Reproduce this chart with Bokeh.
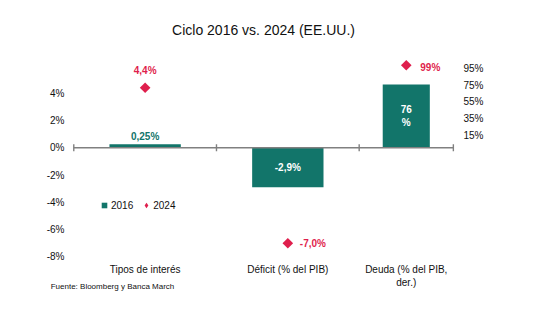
import numpy as np
from bokeh.plotting import figure
from bokeh.models import (Range1d, LinearAxis, FixedTicker, Legend, LegendItem,
                          Title, ColumnDataSource)
from bokeh.core.properties import value
from bokeh.embed import file_html
from bokeh.resources import INLINE

# ---------------- data ----------------
categories = ["Tipos de interés", "Déficit (% del PIB)", "Deuda (% del PIB,\nder.)"]
series_names = ["2016", "2024"]
v2016 = [0.25, -2.9, 76.0]
v2024 = [4.4, -7.0, 99.0]
axis_of = ["left", "left", "right"]
dec2016 = [2, 1, 0]
dec2024 = [1, 1, 0]
left_ticks = [-8, -6, -4, -2, 0, 2, 4]
right_ticks = [15, 35, 55, 75, 95]
title_text = "Ciclo 2016 vs. 2024 (EE.UU.)"
source_note = "Fuente: Bloomberg y Banca March"

# ---------------- layout / style ----------------
TEAL = "#12756A"
RED = "#DF1F4D"
GREY = "#808080"
FONT = "Liberation Sans"
bounds = np.array([0.0, 1.0, 2.0, 2.66])      # category boundaries (last one truncated)
centers = (bounds[:-1] + bounds[1:]) / 2
widths = 0.5 * np.diff(bounds)
XR = (-0.023, 2.682)
YL = (-8.41, 7.13)
K = 16.37                                      # right-axis scale factor
FRAME_W = 386
NOTE_CENTER_PX = 42                            # note centre, px right of frame left


def fmt(v, d):
    return f"{v:.{d}f}".replace(".", ",") + "%"


def make_src(idx):
    return ColumnDataSource(dict(
        x=[float(centers[i]) for i in idx],
        w=[float(widths[i]) for i in idx],
        b=[v2016[i] for i in idx],
        bmid=[v2016[i] / 2 for i in idx],
        d=[v2024[i] for i in idx],
        lb=[fmt(v2016[i], dec2016[i]) for i in idx],
        lbw=[fmt(v2016[i], dec2016[i]).replace("%", "\n%") for i in idx],
        ld=[fmt(v2024[i], dec2024[i]) for i in idx],
    ))


li = [i for i, a in enumerate(axis_of) if a == "left"]
ri = [i for i, a in enumerate(axis_of) if a == "right"]
sl, sr = make_src(li), make_src(ri)
s_tipos, s_def = make_src([0]), make_src([1])

p = figure(width=536, height=322,
           x_range=Range1d(*XR), y_range=Range1d(*YL),
           output_backend="svg", toolbar_location=None,
           min_border_left=70, min_border_right=80,
           min_border_top=50, min_border_bottom=60,
           title=None)
p.extra_y_ranges = {"right": Range1d(YL[0] * K, YL[1] * K)}
p.grid.visible = False
p.outline_line_color = None
p.background_fill_color = "white"
p.border_fill_color = "white"

# titles: a thin spacer next to the frame, then the real title above it
p.add_layout(Title(text=" ", text_font=FONT, text_font_size="6px", standoff=0), "above")
p.add_layout(Title(text=title_text, align="center", text_font=FONT, text_font_size="14px",
                   text_font_style="normal", text_color="#111111"), "above")


def style_axis(ax, standoff, size="10px"):
    ax.axis_line_color = None
    ax.major_tick_line_color = None
    ax.minor_tick_line_color = None
    ax.major_tick_out = 0
    ax.major_tick_in = 0
    ax.minor_tick_out = 0
    ax.major_label_standoff = standoff
    ax.major_label_text_font = FONT
    ax.major_label_text_font_size = size
    ax.major_label_text_color = "#111111"


ya = p.yaxis[0]
ya.ticker = FixedTicker(ticks=left_ticks)
ya.major_label_overrides = {t: f"{t}%" for t in left_ticks}
style_axis(ya, 6)

ra = LinearAxis(y_range_name="right", ticker=FixedTicker(ticks=right_ticks))
ra.major_label_overrides = {t: f"{t}%" for t in right_ticks}
style_axis(ra, 7)
p.add_layout(ra, "right")

xa = p.xaxis[0]
xa.ticker = FixedTicker(ticks=[float(c) for c in centers])
xa.major_label_overrides = {float(c): categories[i] for i, c in enumerate(centers)}
style_axis(xa, 1)

# source note: a label-only axis below the category labels
x_note = XR[0] + NOTE_CENTER_PX * (XR[1] - XR[0]) / FRAME_W
na = LinearAxis(ticker=FixedTicker(ticks=[x_note]))
na.major_label_overrides = {x_note: source_note}
style_axis(na, -9, "8px")
p.add_layout(na, "below")

# bars 2016
p.vbar(x="x", width="w", top="b", bottom=0, source=sl, fill_color=TEAL, line_color=None)
p.vbar(x="x", width="w", top="b", bottom=0, source=sr, fill_color=TEAL, line_color=None,
       y_range_name="right")

# zero line with category ticks
p.segment(x0=[bounds[0]], x1=[bounds[-1]], y0=[0], y1=[0], line_color=GREY, line_width=1.4)
p.scatter(x=list(bounds), y=[0] * len(bounds), marker="dash", angle=np.pi / 2, size=7,
          line_color=GREY, line_width=1.4)

# diamonds 2024
p.scatter(x="x", y="d", source=sl, marker="square", angle=np.pi / 4, size=7.5,
          fill_color=RED, line_color=None)
p.scatter(x="x", y="d", source=sr, marker="square", angle=np.pi / 4, size=7.5,
          fill_color=RED, line_color=None, y_range_name="right")

# data labels
lab = dict(text_font=value(FONT), text_font_size="10px", text_font_style="bold")
p.text(x="x", y="b", text="lb", source=s_tipos, text_color=TEAL, text_align="center",
       text_baseline="middle", y_offset=-8, **lab)
p.text(x="x", y="bmid", text="lb", source=s_def, text_color="white", text_align="center",
       text_baseline="middle", **lab)
p.text(x="x", y="bmid", text="lbw", source=sr, text_color="white", text_align="center",
       text_baseline="middle", text_line_height=1.25, y_range_name="right", **lab)
p.text(x="x", y="d", text="ld", source=s_tipos, text_color=RED, text_align="center",
       text_baseline="middle", y_offset=-17, **lab)
p.text(x="x", y="d", text="ld", source=s_def, text_color=RED, text_align="left",
       text_baseline="middle", x_offset=12, **lab)
p.text(x="x", y="d", text="ld", source=sr, text_color=RED, text_align="left",
       text_baseline="middle", x_offset=14, y_offset=2, y_range_name="right", **lab)

# legend (swatch-only renderers, nothing drawn in the plot area)
sw_sq = p.scatter(x=[np.nan], y=[np.nan], marker="square", fill_color=TEAL, line_color=None)
sw_dm = p.scatter(x=[np.nan], y=[np.nan], marker="diamond", fill_color=RED, line_color=None)
legend = Legend(items=[LegendItem(label=series_names[0], renderers=[sw_sq]),
                       LegendItem(label=series_names[1], renderers=[sw_dm])],
                location=(27, 50), orientation="horizontal",
                glyph_width=14, glyph_height=14, label_standoff=0, spacing=6,
                padding=0, margin=0, border_line_color=None, background_fill_alpha=0,
                label_text_font=FONT, label_text_font_size="10px",
                label_text_color="#111111", label_height=14)
p.add_layout(legend)

open("out.html", "w").write(file_html(p, INLINE))
